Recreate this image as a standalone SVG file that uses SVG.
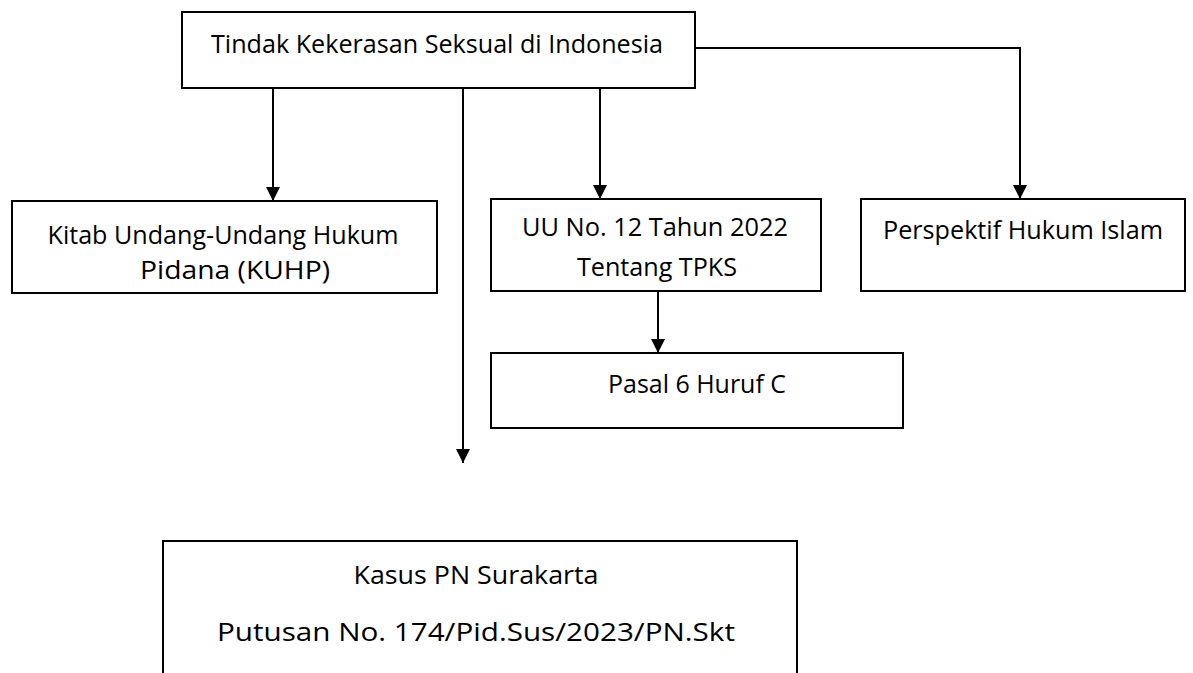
<svg xmlns="http://www.w3.org/2000/svg" width="1193" height="673" viewBox="0 0 1193 673">
<style>
.box{fill:#fff;stroke:#000;stroke-width:2}
.t{font-family:"Open Sans","Liberation Sans",sans-serif;font-size:26px;fill:#000}
.c{text-anchor:middle}
.ln{fill:none;stroke:#000;stroke-width:2}
</style>
<defs>
<marker id="ah" markerWidth="14" markerHeight="14" refX="14" refY="7" orient="auto" markerUnits="userSpaceOnUse">
<path d="M0,0 L14,7 L0,14 Z" fill="#000"/>
</marker>
</defs>
<rect width="1193" height="673" fill="#fff"/>
<g id="connectors">
<path class="ln" d="M273,88 V201" marker-end="url(#ah)"/>
<path class="ln" d="M463,88 V463" marker-end="url(#ah)"/>
<path class="ln" d="M600,88 V199" marker-end="url(#ah)"/>
<path class="ln" d="M695,48 H1020 V199" marker-end="url(#ah)"/>
<path class="ln" d="M658,291 V353" marker-end="url(#ah)"/>
</g>
<g id="n-root">
<rect class="box" x="182" y="12" width="513" height="76"/>
<text class="t" x="211" y="53" textLength="452" lengthAdjust="spacingAndGlyphs">Tindak Kekerasan Seksual di Indonesia</text>
</g>
<g id="n-kuhp">
<rect class="box" x="12" y="201" width="425" height="92"/>
<text class="t c" x="223" y="244" textLength="351" lengthAdjust="spacingAndGlyphs">Kitab Undang-Undang Hukum</text>
<text class="t c" x="235" y="279" textLength="190" lengthAdjust="spacingAndGlyphs">Pidana (KUHP)</text>
</g>
<g id="n-uu">
<rect class="box" x="491" y="199" width="330" height="92"/>
<text class="t c" x="655" y="236" textLength="266" lengthAdjust="spacingAndGlyphs">UU No. 12 Tahun 2022</text>
<text class="t c" x="657" y="276" textLength="160" lengthAdjust="spacingAndGlyphs">Tentang TPKS</text>
</g>
<g id="n-islam">
<rect class="box" x="861" y="199" width="324" height="92"/>
<text class="t c" x="1023" y="239" textLength="280" lengthAdjust="spacingAndGlyphs">Perspektif Hukum Islam</text>
</g>
<g id="n-pasal">
<rect class="box" x="491" y="353" width="412" height="75"/>
<text class="t c" x="697" y="393" textLength="178" lengthAdjust="spacingAndGlyphs">Pasal 6 Huruf C</text>
</g>
<g id="n-kasus">
<rect class="box" x="163" y="541" width="634" height="160"/>
<text class="t c" x="476" y="584" textLength="245" lengthAdjust="spacingAndGlyphs">Kasus PN Surakarta</text>
<text class="t c" x="476" y="641" textLength="518" lengthAdjust="spacingAndGlyphs">Putusan No. 174/Pid.Sus/2023/PN.Skt</text>
</g>
</svg>
